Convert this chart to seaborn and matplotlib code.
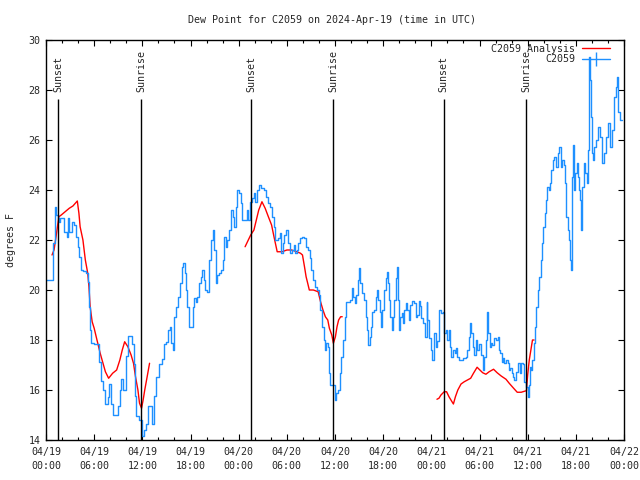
import seaborn as sns
import pandas as pd
import numpy as np
import matplotlib.pyplot as plt
import matplotlib.dates as mdates
from matplotlib.lines import Line2D

# hours after 2024-04-19 00:00 UTC, dew point in degrees F
obs_hours = [
    0.0, 0.8, 0.85, 1.1, 1.2, 1.45, 1.6, 1.7, 2.1, 2.3, 2.6, 2.7, 2.9, 3.3, 3.55, 3.75, 3.95,
    4.15, 4.35, 4.6, 5.0, 5.2, 5.35, 5.5, 5.65, 6.0, 6.45, 6.65, 6.9, 7.15, 7.4, 7.7, 7.9,
    8.1, 8.3, 8.75, 8.95, 9.25, 9.4, 9.6, 9.9, 10.0, 10.2, 10.5, 10.75, 10.9, 11.05, 11.25,
    11.6, 11.9, 12.0, 12.15, 12.4, 12.7, 13.0, 13.25, 13.4, 13.75, 14.05, 14.4, 14.65,
    15.0, 15.2, 15.4, 15.6, 15.8, 16.0, 16.25, 16.45, 16.65, 16.9, 17.1, 17.3, 17.4, 17.6,
    17.8, 18.05, 18.25, 18.4, 18.65, 18.85, 19.05, 19.25, 19.45, 19.65, 19.85, 20.1, 20.3,
    20.5, 20.75, 20.95, 21.15, 21.35, 21.6, 21.8, 22.0, 22.15, 22.4, 22.6, 22.85, 23.0,
    23.25, 23.45, 23.65, 23.85, 24.1, 24.25, 24.45, 24.8, 25.0, 25.15, 25.35, 25.6, 25.85,
    26.05, 26.25, 26.5, 26.8, 27.1, 27.4, 27.6, 27.9, 28.1, 28.35, 28.55, 28.9, 29.1,
    29.25, 29.5, 29.65, 29.9, 30.2, 30.4, 30.6, 30.85, 31.05, 31.25, 31.45, 31.65, 31.9,
    32.2, 32.4, 32.6, 32.85, 33.05, 33.25, 33.45, 33.75, 34.0, 34.15, 34.4, 34.6, 34.8,
    34.9, 35.1, 35.25, 35.4, 35.75, 35.95, 36.15, 36.35, 36.6, 36.8, 37.0, 37.2, 37.4,
    37.7, 37.9, 38.1, 38.3, 38.5, 38.65, 38.85, 38.95, 39.15, 39.35, 39.6, 39.8, 40.0,
    40.1, 40.3, 40.5, 40.65, 40.9, 41.1, 41.25, 41.4, 41.6, 41.75, 41.9, 42.1, 42.3, 42.5,
    42.6, 42.75, 42.9, 43.1, 43.25, 43.4, 43.6, 43.7, 43.85, 44.0, 44.15, 44.35, 44.5,
    44.65, 44.9, 45.0, 45.2, 45.4, 45.6, 45.85, 46.05, 46.25, 46.45, 46.6, 46.75, 46.95,
    47.15, 47.4, 47.5, 47.7, 47.9, 48.1, 48.3, 48.55, 48.75, 48.95, 49.15, 49.4, 49.6,
    49.8, 50.0, 50.2, 50.35, 50.5, 50.7, 50.9, 51.1, 51.25, 51.45, 51.9, 52.3, 52.5,
    52.65, 52.85, 53.0, 53.15, 53.35, 53.55, 53.75, 53.95, 54.15, 54.4, 54.6, 54.75,
    54.9, 55.1, 55.25, 55.45, 55.6, 55.85, 56.05, 56.25, 56.4, 56.6, 56.75, 56.9, 57.1,
    57.3, 57.5, 57.65, 57.85, 58.0, 58.15, 58.35, 58.55, 58.75, 59.0, 59.2, 59.4, 59.5,
    59.6, 59.8, 60.0, 60.15, 60.3, 60.45, 60.6, 60.75, 60.9, 61.1, 61.25, 61.4, 61.6,
    61.75, 61.9, 62.1, 62.3, 62.4, 62.6, 62.75, 62.9, 63.1, 63.3, 63.5, 63.75, 63.95,
    64.1, 64.3, 64.5, 64.7, 64.8, 65.0, 65.2, 65.3, 65.4, 65.5, 65.7, 65.8, 65.9, 66.1,
    66.25, 66.4, 66.5, 66.7, 66.8, 67.0, 67.2, 67.4, 67.5, 67.6, 67.7, 67.8, 67.9, 68.0,
    68.2, 68.3, 68.5, 68.7, 68.8, 69.0, 69.2, 69.3, 69.5, 69.7, 69.8, 70.0, 70.2, 70.3,
    70.5, 70.7, 70.8, 71.0, 71.1, 71.2, 71.3, 71.5, 71.75,
]
obs_dew = [
    20.4, 20.4, 21.9, 23.3, 23.0, 22.9, 22.7, 22.9, 22.9, 22.3, 22.1, 22.9, 22.3, 22.7, 22.6, 22.1, 21.7,
    21.3, 20.8, 20.75, 20.7, 20.3, 19.3, 18.4, 17.9, 17.85, 17.85, 17.1, 16.35, 16.0, 15.45, 15.7, 16.25,
    15.45, 15.0, 15.0, 15.35, 16.0, 16.45, 16.0, 16.0, 17.35, 18.15, 18.15, 17.85, 17.05, 15.75, 14.95,
    14.8, 14.8, 14.15, 14.4, 14.65, 15.35, 15.35, 14.65, 15.75, 16.5, 17.05, 17.25, 17.85,
    17.93, 18.4, 18.53, 17.87, 17.6, 18.93, 19.33, 19.73, 20.27, 20.93, 21.07, 20.67, 20.0, 19.33,
    18.53, 18.53, 19.33, 19.67, 19.53, 19.73, 20.27, 20.53, 20.8, 20.4, 20.0, 19.93, 21.2,
    22.0, 22.4, 21.6, 20.27, 20.6, 20.67, 20.8, 21.2, 22.13, 21.73, 22.0, 22.4, 23.2,
    22.93, 22.53, 23.33, 24.0, 23.87, 23.47, 22.8, 22.8, 23.2, 22.8, 23.53, 23.67, 23.87,
    23.53, 24.0, 24.2, 24.07, 24.0, 23.73, 23.47, 23.33, 22.93, 22.53, 22.0, 22.07, 22.27,
    21.47, 21.87, 22.2, 22.4, 21.87, 21.47, 21.6, 21.8, 21.47, 21.6, 21.87, 22.07, 22.13,
    22.07, 21.73, 21.6, 21.27, 20.8, 20.4, 20.13, 20.0, 19.8, 19.2, 18.53, 18.0, 17.6,
    17.87, 17.73, 16.67, 16.2, 16.2, 15.6, 15.87, 16.0, 16.67, 17.33, 18.0, 18.93, 19.53,
    19.53, 19.6, 20.07, 19.73, 19.47, 19.8, 20.4, 20.87, 20.27, 19.87, 19.6, 18.93, 18.4,
    17.8, 18.13, 18.53, 19.13, 19.2, 19.73, 20.0, 19.6, 19.13, 18.53, 19.2, 20.0, 20.47, 20.73,
    20.27, 19.6, 18.93, 18.4, 18.93, 19.6, 20.47, 20.93, 19.6, 18.4, 18.93, 19.07, 18.67,
    19.2, 19.47, 19.2, 18.8, 19.4, 19.57, 19.47, 18.93, 19.0, 19.57, 19.35, 18.87, 18.67,
    18.13, 19.53, 18.8, 18.07, 17.6, 17.2, 18.27, 17.73, 17.95, 19.2, 19.07, 19.13, 18.27,
    18.4, 18.0, 18.4, 17.73, 17.33, 17.6, 17.47, 17.67, 17.33, 17.2, 17.27, 17.33, 17.6,
    18.13, 18.67, 18.27, 17.73, 17.4, 18.0, 17.6, 17.85, 17.4, 16.8, 17.33, 18.0,
    19.13, 18.27, 17.73, 17.87, 17.8, 18.07, 18.0, 18.13, 17.6, 17.47, 17.13, 17.27, 17.07,
    17.2, 17.07, 16.8, 16.87, 16.67, 16.53, 16.4, 16.73, 17.07, 16.67, 17.07, 17.05, 16.67,
    16.33, 16.13, 15.73, 16.2, 16.93, 16.8, 17.2, 17.87, 18.53, 19.33, 20.0, 20.53, 21.2,
    21.87, 22.53, 23.07, 23.6, 24.13, 24.0, 24.27, 24.8, 25.2, 25.33, 24.93, 25.47, 25.73,
    24.93, 25.2, 25.0, 24.27, 22.93, 22.4, 22.0, 21.2, 20.8, 24.53, 25.8, 24.0, 24.67, 25.07,
    24.53, 24.0, 23.6, 22.4, 24.13, 25.07, 24.67, 24.27, 25.6, 28.0, 29.3, 28.4, 26.93, 25.47,
    25.2, 25.73, 26.0, 26.0, 26.53, 26.13, 25.73, 25.07, 25.47, 25.8, 26.13, 26.67, 26.4, 25.73,
    26.4, 27.67, 27.73, 28.13, 28.53, 28.0, 27.13, 26.8, 26.8,
]

# analysis series, three separate pieces
ana_hours = [
    [0.75, 1.0, 1.25, 1.6, 1.9, 2.9, 3.35, 3.9, 4.1, 4.25, 4.6, 4.9, 5.2, 5.35, 5.5, 5.75,
     6.0, 6.35, 6.75, 7.1, 7.4, 7.8, 8.3, 8.8, 9.2, 9.5, 9.8, 10.2, 10.6, 10.9, 11.15,
     11.45, 11.65, 11.9, 12.1, 12.3, 12.6, 12.9],
    [24.8, 25.2, 25.5, 25.9, 26.2, 26.5, 26.9, 27.3, 27.7, 28.1, 28.4, 28.8, 29.4, 30.0,
     30.6, 31.25, 31.7, 31.95, 32.2, 32.4, 32.6, 32.8, 33.3, 33.9, 34.2, 34.5, 34.8, 35.1,
     35.3, 35.6, 35.8, 36.05, 36.25, 36.45, 36.7, 36.9],
    [48.7, 48.95, 49.2, 49.6, 49.9, 50.2, 50.5, 50.75, 51.0, 51.3, 51.7, 52.1, 52.5, 52.9,
     53.25, 53.7, 53.95, 54.4, 54.8, 55.2, 55.75, 56.2, 56.7, 57.3, 57.7, 58.25, 58.7,
     59.2, 59.7, 59.85, 60.0, 60.2, 60.4, 60.6, 60.8],
]
ana_dew = [
    [21.4, 21.6, 22.13, 22.93, 23.0, 23.27, 23.36, 23.56, 23.07, 22.53, 22.0, 21.2, 20.67,
     20.13, 19.33, 18.73, 18.47, 18.0, 17.47, 17.07, 16.73, 16.47, 16.67, 16.8, 17.2, 17.6,
     17.93, 17.73, 17.4, 17.07, 16.53, 16.0, 15.47, 15.27, 15.6, 16.0, 16.53, 17.07],
    [21.73, 22.0, 22.2, 22.4, 22.8, 23.2, 23.53, 23.27, 22.93, 22.6, 22.13, 21.53, 21.53,
     21.6, 21.6, 21.53, 21.47, 21.4, 20.93, 20.53, 20.27, 20.0, 20.0, 19.93, 19.53, 19.2,
     18.93, 18.8, 18.47, 18.2, 17.87, 18.13, 18.53, 18.8, 18.93, 18.93],
    [15.63, 15.67, 15.8, 15.93, 15.93, 15.73, 15.57, 15.44, 15.73, 16.0, 16.24, 16.33,
     16.4, 16.47, 16.67, 16.91, 16.83, 16.69, 16.63, 16.73, 16.83, 16.69, 16.56, 16.43,
     16.27, 16.07, 15.91, 15.91, 15.96, 15.97, 16.6, 17.2, 17.6, 18.0, 18.0],
]

sun_hours = [1.53, 11.85, 25.55, 35.8, 49.56, 59.8]
sun_labels = ["Sunset", "Sunrise", "Sunset", "Sunrise", "Sunset", "Sunrise"]

start = pd.Timestamp("2024-04-19 00:00")


def to_time(hours):
    return start + pd.to_timedelta(np.array(hours), unit="h")


obs = pd.DataFrame({"time": to_time(obs_hours), "dew": obs_dew})
pieces = []
for i in range(len(ana_hours)):
    pieces.append(pd.DataFrame({"time": to_time(ana_hours[i]), "dew": ana_dew[i], "seg": i}))
ana = pd.concat(pieces, ignore_index=True)

sns.set_style("ticks")
plt.rcParams["font.family"] = ["DejaVu Sans Mono"]
fs = 7.2
blue = "#1e90ff"

fig = plt.figure(figsize=(6.4, 4.8), dpi=100)
ax = fig.add_axes([46 / 640, 40 / 480, 578 / 640, 400 / 480])

sns.lineplot(data=ana, x="time", y="dew", units="seg", estimator=None,
             color="red", linewidth=1, ax=ax)
sns.lineplot(data=obs, x="time", y="dew", estimator=None, color=blue,
             linewidth=1, drawstyle="steps-post", ax=ax)

# sunrise / sunset markers
sun_times = to_time(sun_hours)
ax.vlines(sun_times, 14, 27.62, color="black", linewidth=1)
for t, lab in zip(sun_times, sun_labels):
    ax.text(t, 27.92, lab, rotation=90, ha="center", va="bottom", fontsize=fs)

ax.set_xlim(start, start + pd.Timedelta(hours=72))
ax.set_ylim(14, 30)
ax.set_yticks(range(14, 31, 2))
ax.xaxis.set_major_locator(mdates.HourLocator(byhour=[0, 6, 12, 18]))
ax.xaxis.set_minor_locator(mdates.HourLocator(interval=2))
ax.xaxis.set_major_formatter(mdates.DateFormatter("%m/%d\n%H:%M"))
for lab in ax.get_xticklabels():
    lab.set_linespacing(1.45)

ax.tick_params(which="both", direction="in", top=True, right=True,
               labelsize=fs, width=0.8, color="black")
ax.tick_params(which="major", length=4.5)
ax.tick_params(which="minor", length=2.5)
ax.tick_params(axis="x", pad=5)
ax.tick_params(axis="y", pad=4)
for sp in ax.spines.values():
    sp.set_visible(True)
    sp.set_color("black")
    sp.set_linewidth(1)

ax.set_xlabel("")
ax.set_ylabel("degrees F", fontsize=fs, labelpad=9)
fig.text(332 / 640, 1 - 20 / 480, "Dew Point for C2059 on 2024-Apr-19 (time in UTC)",
         ha="center", va="center", fontsize=fs)

handles = [Line2D([], [], color="red", linewidth=1),
           Line2D([], [], color=blue, linewidth=1, marker="|", markersize=10,
                  markeredgewidth=1)]
ax.legend(handles, ["C2059 Analysis", "C2059"], loc="upper right",
          bbox_to_anchor=((610 - 46) / 578, (440 - 44) / 400), frameon=False,
          markerfirst=False, fontsize=fs, handlelength=2.8, handletextpad=0.7,
          borderpad=0, borderaxespad=0, labelspacing=0.05)

fig.savefig("out.png", dpi=100)
